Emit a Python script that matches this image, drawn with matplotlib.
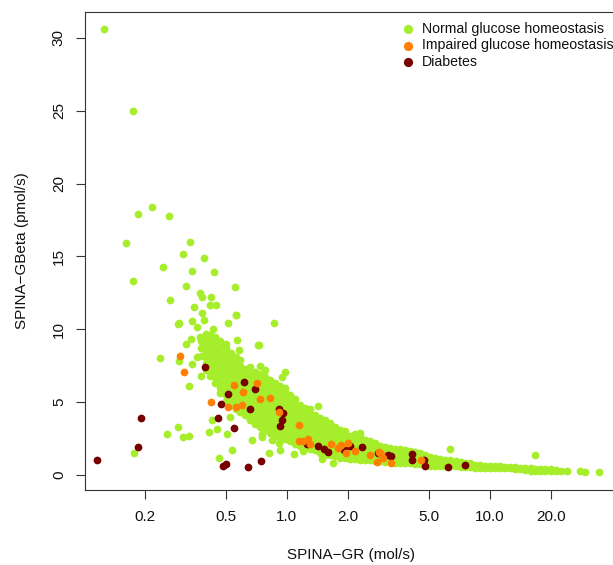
import matplotlib
matplotlib.use("Agg")
import matplotlib.pyplot as plt
from matplotlib.lines import Line2D
from matplotlib.ticker import FixedLocator, FixedFormatter, NullLocator

# scattered "normal" points (x = SPINA-GR, y = SPINA-GBeta)
normal_x = [0.126, 0.175, 0.186, 0.218, 0.263, 0.161, 0.176, 0.247, 0.265, 0.237,
            0.177, 0.294, 0.336, 0.308, 0.342, 0.392, 0.440, 0.318, 0.554, 0.566,
            0.865, 0.726, 0.375, 0.383, 0.425, 0.419, 0.449, 0.350, 0.384, 0.565,
            0.292, 0.340, 0.393, 0.516, 0.362, 0.432, 0.320, 0.728, 0.339, 0.375,
            0.294, 0.343, 0.360, 0.331, 0.378, 0.290, 0.256, 0.308, 0.332, 0.416,
            0.455, 0.427, 0.506, 0.463, 0.536, 0.525, 0.673, 0.760, 0.850, 0.818,
            0.930, 1.086, 1.690, 1.420, 0.980, 0.945, 1.500, 0.758, 0.920, 1.210,
            2.290, 6.400, 16.8, 34.7, 29.5, 28.0, 0.567, 0.580]
normal_y = [30.6, 25.0, 17.9, 18.4, 17.8, 15.9, 13.3, 14.3, 12.0, 8.0,
            1.5, 10.4, 16.0, 15.2, 14.0, 14.9, 13.9, 13.0, 12.9, 11.0,
            10.4, 8.9, 12.5, 12.2, 12.2, 11.7, 11.66, 11.5, 11.1, 11.0,
            10.36, 10.55, 10.66, 10.43, 10.16, 10.05, 9.0, 8.93, 9.34, 9.5,
            7.8, 7.6, 8.1, 6.1, 6.8, 3.3, 2.8, 2.6, 2.7, 2.95,
            3.15, 3.77, 2.8, 1.14, 1.7, 4.0, 2.4, 2.6, 2.4, 1.53,
            1.7, 1.42, 0.84, 4.75, 7.1, 6.7, 1.1, 2.8, 2.2, 1.64,
            2.9, 1.8, 1.4, 0.2, 0.2, 0.3, 9.3, 8.6]

# dense "normal" cloud, read column by column
cloud_x = [0.38, 0.40, 0.42, 0.445, 0.47, 0.50, 0.53, 0.56, 0.59, 0.62,
           0.66, 0.70, 0.74, 0.78, 0.83, 0.88, 0.93, 0.98, 1.04, 1.10,
           1.16, 1.23, 1.30, 1.38, 1.46, 1.55, 1.64, 1.73, 1.83, 1.94,
           2.05, 2.17, 2.30, 2.43, 2.57, 2.72, 2.88, 3.05, 3.23, 3.42,
           3.62, 3.83, 4.05, 4.3, 4.55, 4.8, 5.1, 5.4, 5.7, 6.0,
           6.4, 6.8, 7.2, 7.6, 8.0, 8.5, 9.0, 9.5, 10.0, 10.6,
           11.2, 11.9, 12.6, 13.3, 14.1, 15.0, 15.9, 16.8, 17.8, 18.8,
           20.0, 21.2, 22.5, 24.0]
cloud_y = [
    [8.2, 8.7, 9.2],
    [7.2, 7.7, 8.1, 8.5, 8.9, 9.3, 9.7],
    [6.8, 7.2, 7.6, 8.0, 8.4, 8.8, 9.2, 9.6],
    [6.3, 6.7, 7.1, 7.5, 7.9, 8.3, 8.7, 9.1, 9.5],
    [5.6, 6.0, 6.4, 6.8, 7.2, 7.6, 8.0, 8.4, 8.8, 9.2],
    [5.1, 5.5, 5.9, 6.3, 6.7, 7.1, 7.5, 7.9, 8.3, 8.7, 9.0],
    [4.8, 5.2, 5.6, 6.0, 6.4, 6.8, 7.2, 7.6, 8.0, 8.4],
    [4.5, 4.9, 5.3, 5.7, 6.1, 6.5, 6.9, 7.3, 7.7, 8.1],
    [4.3, 4.7, 5.1, 5.5, 5.9, 6.3, 6.7, 7.1, 7.5, 7.9],
    [4.1, 4.5, 4.9, 5.3, 5.7, 6.1, 6.5, 6.9, 7.3],
    [3.8, 4.2, 4.6, 5.0, 5.4, 5.8, 6.2, 6.6, 7.0, 7.4],
    [3.5, 3.9, 4.3, 4.7, 5.1, 5.5, 5.9, 6.3, 6.7, 7.1],
    [3.3, 3.7, 4.1, 4.5, 4.9, 5.3, 5.7, 6.1, 6.5, 6.9, 7.5],
    [3.1, 3.5, 3.9, 4.3, 4.7, 5.1, 5.5, 5.9, 6.3, 6.7, 7.2],
    [2.9, 3.3, 3.7, 4.1, 4.5, 4.9, 5.3, 5.7, 6.1, 6.5],
    [2.7, 3.1, 3.5, 3.9, 4.3, 4.7, 5.1, 5.5, 5.9, 6.3],
    [2.6, 3.0, 3.4, 3.8, 4.2, 4.6, 5.0, 5.4, 5.8, 6.1],
    [2.5, 2.9, 3.3, 3.7, 4.1, 4.5, 4.9, 5.3, 5.7, 6.0],
    [2.3, 2.7, 3.1, 3.5, 3.9, 4.3, 4.7, 5.1, 5.5],
    [2.1, 2.5, 2.9, 3.3, 3.7, 4.1, 4.5, 4.9, 5.2],
    [2.0, 2.4, 2.8, 3.2, 3.6, 4.0, 4.4, 4.8],
    [1.9, 2.3, 2.7, 3.1, 3.5, 3.9, 4.3, 4.6],
    [1.8, 2.2, 2.6, 3.0, 3.4, 3.8, 4.2, 4.5],
    [1.7, 2.1, 2.5, 2.9, 3.3, 3.7, 4.1],
    [1.5, 1.9, 2.3, 2.7, 3.1, 3.5, 3.9],
    [1.4, 1.8, 2.2, 2.6, 3.0, 3.4, 3.8],
    [1.35, 1.75, 2.15, 2.55, 2.95, 3.35, 3.6],
    [1.3, 1.7, 2.1, 2.5, 2.9, 3.3],
    [1.2, 1.6, 2.0, 2.4, 2.8, 3.1],
    [1.15, 1.55, 1.95, 2.35, 2.75, 3.0],
    [1.1, 1.5, 1.9, 2.3, 2.7],
    [1.1, 1.45, 1.8, 2.15, 2.5, 2.8],
    [1.05, 1.4, 1.75, 2.1, 2.45, 2.7],
    [1.0, 1.35, 1.7, 2.05, 2.4],
    [1.0, 1.35, 1.7, 2.05, 2.3],
    [0.95, 1.3, 1.65, 2.0, 2.2],
    [0.95, 1.3, 1.65, 2.0],
    [0.9, 1.25, 1.6, 1.95],
    [0.9, 1.2, 1.5, 1.85],
    [0.85, 1.15, 1.45, 1.8],
    [0.85, 1.15, 1.45, 1.75],
    [0.8, 1.1, 1.4, 1.7],
    [0.8, 1.1, 1.4, 1.65],
    [0.75, 1.05, 1.35, 1.6],
    [0.75, 1.05, 1.35, 1.5],
    [0.7, 1.0, 1.3, 1.4],
    [0.65, 0.95, 1.25],
    [0.65, 0.9, 1.15],
    [0.65, 0.9, 1.1],
    [0.6, 0.85, 1.05],
    [0.6, 0.8, 1.0],
    [0.6, 0.8, 0.95],
    [0.55, 0.75, 0.9],
    [0.55, 0.75, 0.85],
    [0.55, 0.8],
    [0.5, 0.7],
    [0.5, 0.7],
    [0.5, 0.65],
    [0.5, 0.65],
    [0.45, 0.6],
    [0.45, 0.6],
    [0.45, 0.55],
    [0.45, 0.55],
    [0.4, 0.55],
    [0.4, 0.5],
    [0.35, 0.5],
    [0.3, 0.45],
    [0.3, 0.4],
    [0.3, 0.4],
    [0.3, 0.4],
    [0.3, 0.4],
    [0.3, 0.35],
    [0.3],
    [0.3],
]

impaired_x = [0.299, 0.312, 0.426, 0.513, 0.56, 0.60, 0.549, 0.61, 0.716, 0.742,
              0.824, 0.918, 1.146, 1.15, 1.20, 1.28, 1.31, 1.65, 1.80, 1.86,
              1.97, 2.00, 2.17, 2.58, 2.80, 2.90, 2.85, 2.98, 3.26, 4.60]
impaired_y = [8.15, 7.1, 5.0, 4.7, 4.7, 4.8, 6.2, 5.7, 6.3, 5.2,
              5.3, 4.35, 3.4, 2.3, 2.3, 2.45, 2.15, 2.15, 1.85, 2.05,
              1.5, 2.2, 1.65, 1.4, 0.9, 1.45, 1.6, 1.2, 0.85, 1.0]

diabetes_x = [0.117, 0.185, 0.192, 0.397, 0.476, 0.457, 0.515, 0.549, 0.613, 0.697,
              0.658, 0.484, 0.50, 0.646, 0.751, 0.918, 0.96, 0.95, 0.925, 1.26,
              1.42, 1.52, 1.60, 1.92, 2.05, 2.35, 2.83, 3.15, 3.25, 4.14,
              4.14, 4.75, 4.80, 6.26, 7.57]
diabetes_y = [1.05, 1.9, 3.9, 7.4, 4.9, 3.9, 5.55, 3.25, 6.4, 5.9,
              4.55, 0.6, 0.75, 0.55, 0.95, 4.5, 4.25, 3.75, 3.35, 2.1,
              2.0, 1.75, 1.55, 1.7, 2.0, 1.95, 1.5, 1.35, 1.3, 1.45,
              1.05, 1.0, 0.6, 0.57, 0.7]

labels = ["Normal glucose homeostasis", "Impaired glucose homeostasis", "Diabetes"]
colors = ["#A6EE2B", "#FF7F05", "#780000"]

x_ticks = [0.2, 0.5, 1.0, 2.0, 5.0, 10.0, 20.0]
y_ticks = [0, 5, 10, 15, 20, 25, 30]

plt.rcParams["font.family"] = ["Liberation Sans", "DejaVu Sans"]

W, H = 613, 565
fig = plt.figure(figsize=(W / 100, H / 100), dpi=100)
ax = fig.add_axes([84.7 / W, 1 - 490 / H, (617 - 84.7) / W, (490 - 11.7) / H])

cx, cy = [], []
for x, ys in zip(cloud_x, cloud_y):
    for y in ys:
        cx.append(x)
        cy.append(y)

kw = dict(s=31, linewidths=0, clip_on=True)
ax.scatter(cx, cy, color=colors[0], **kw)
ax.scatter(normal_x, normal_y, color=colors[0], **kw)
ax.scatter(diabetes_x, diabetes_y, color=colors[2], **kw)
ax.scatter(impaired_x, impaired_y, color=colors[1], **kw)

ax.set_xscale("log")
ax.set_xlim(0.1012, 42.4)
ax.set_ylim(-1.03, 31.8)

ax.xaxis.set_major_locator(FixedLocator(x_ticks))
ax.xaxis.set_major_formatter(FixedFormatter(["%.1f" % t for t in x_ticks]))
ax.xaxis.set_minor_locator(NullLocator())
ax.yaxis.set_major_locator(FixedLocator(y_ticks))
ax.yaxis.set_major_formatter(FixedFormatter([str(t) for t in y_ticks]))

ax.tick_params(axis="both", direction="out", length=6.5, width=0.8,
               color="#333333", labelsize=11, labelcolor="#111111")
ax.tick_params(axis="x", pad=8)
ax.tick_params(axis="y", pad=7)
for lab in ax.get_yticklabels():
    lab.set_rotation(90)
    lab.set_verticalalignment("center")

for sp in ax.spines.values():
    sp.set_linewidth(0.8)
    sp.set_color("#333333")

fig.text((84.7 + 617) / 2 / W, 1 - 555 / H, "SPINA\u2212GR (mol/s)",
         ha="center", va="center", fontsize=11, color="#111111")
fig.text(22.3 / W, 1 - 251 / H, "SPINA\u2212GBeta (pmol/s)", rotation=90,
         ha="center", va="center", fontsize=11, color="#111111")

# legend without box, placed like the original
for i, (lab, col) in enumerate(zip(labels, colors)):
    yy = 1 - (29 + 16.5 * i) / H
    fig.add_artist(Line2D([408.3 / W], [yy], transform=fig.transFigure,
                          marker="o", markersize=5.6, color=col, linestyle="none"))
    fig.text(422.3 / W, yy, lab, ha="left", va="center", fontsize=10.2,
             color="#111111")

fig.savefig("out.png", dpi=100)
